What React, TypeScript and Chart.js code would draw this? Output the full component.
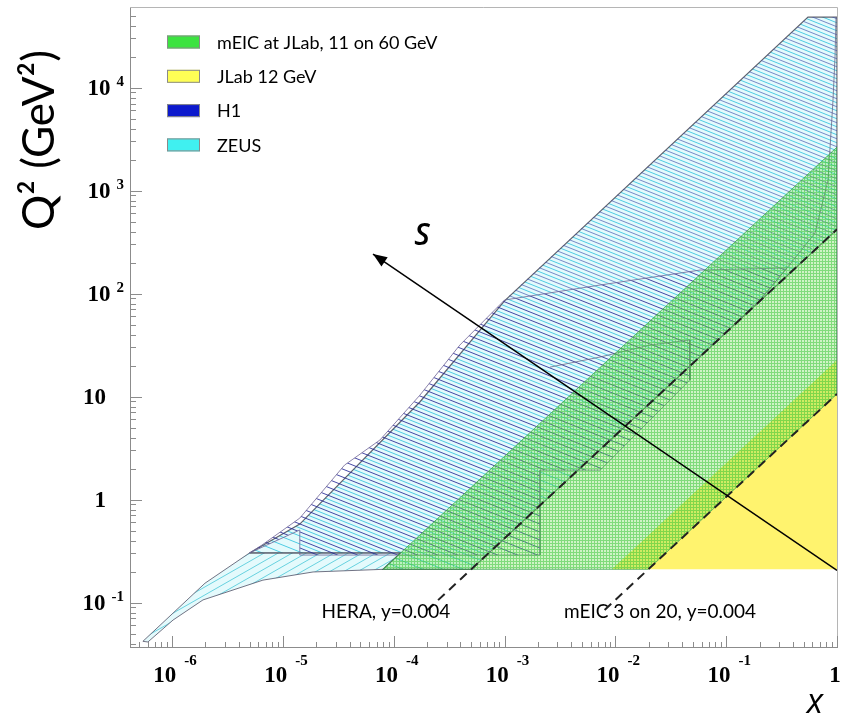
import React, { useEffect, useRef } from 'react';
import { Chart, registerables } from 'chart.js';

Chart.register(...registerables);

// ---- axis ranges (x = Bjorken x, y = Q^2 in GeV^2) ----
const X_MIN = 4.17e-7;
const X_MAX = 1;
const Q2_MIN = 0.037;
const Q2_MAX = 59200;

// ---- tick labels ----
const xTickValues = [1e-6, 1e-5, 1e-4, 1e-3, 1e-2, 1e-1, 1];
const xTickBase = ['10', '10', '10', '10', '10', '10', '1'];
const xTickExp = ['-6', '-5', '-4', '-3', '-2', '-1', ''];
const yTickValues = [0.1, 1, 10, 100, 1000, 10000];
const yTickBase = ['10', '1', '10', '10', '10', '10'];
const yTickExp = ['-1', '', '', '2', '3', '4'];

// ---- legend ----
const legendLabels = ['mEIC at JLab, 11 on 60 GeV', 'JLab 12 GeV', 'H1', 'ZEUS'];
const legendColors = ['#3ce340', '#ffff55', '#0c19cd', '#40f0f0'];

// ---- regions: polygon vertices (x, Q^2) ----
const jlabX = [0.0093, 1, 1, 0.0093];
const jlabQ2 = [0.21, 22.6, 0.21, 0.21];

const meicX = [8.0e-5, 1, 1, 0.0198, 8.0e-5];
const meicQ2 = [0.21, 2640, 10.6, 0.21, 0.21];

const zeusLowX = [5.45e-7, 1.98e-6, 5.0e-6, 1.15e-4, 8.0e-5, 1.87e-5, 6.6e-6, 1.9e-6, 1.02e-6, 6.05e-7, 5.45e-7];
const zeusLowQ2 = [0.042, 0.154, 0.303, 0.303, 0.21, 0.198, 0.165, 0.106, 0.0676, 0.0414, 0.042];

const zeusX = [5.0e-6, 1.42e-5, 1.72e-4, 1.0e-3, 0.547, 1, 1, 5.0e-4, 8.0e-5, 1.15e-4, 5.0e-6];
const zeusQ2 = [0.303, 0.578, 8.85, 85, 48300, 48300, 420, 0.21, 0.21, 0.303, 0.303];

// H1, central (low/medium Q^2) part
const h1X = [5.0e-6, 6.46e-6, 1.42e-5, 3.6e-5, 7.5e-5, 1.72e-4, 3.95e-4, 1.0e-3, 7.3e-3, 0.058, 0.354, 0.202, 0.047, 0.047, 7.3e-3, 2.09e-3, 2.09e-3, 1.42e-5, 1.42e-5, 5.0e-6];
const h1Q2 = [0.303, 0.361, 0.66, 2.16, 3.78, 10.3, 31.6, 86.5, 121, 169, 177, 86.5, 19.8, 14.5, 1.93, 1.93, 0.289, 0.289, 0.506, 0.303];
// H1, high Q^2 part
const h1HighX = [1.0e-3, 0.547, 1, 1, 0.354, 0.058, 7.3e-3, 1.0e-3];
const h1HighQ2 = [86.5, 48300, 48300, 420, 177, 169, 121, 86.5];

// ---- inner outlines of the HERA measurement regions ----
const curveRightX = [0.98, 0.96, 0.92, 0.83, 0.633, 0.354, 0.202];
const curveRightQ2 = [48300, 20000, 7500, 1265, 386, 177, 86.5];
const bumpX = [2.57e-3, 7.3e-3, 0.0205, 0.047, 0.047];
const bumpQ2 = [19.3, 24.2, 31.6, 35.4, 14.5];

// ---- y = 0.004 lines ----
const heraDashX = [2.0e-4, 1];
const heraDashQ2 = [0.084, 420];
const meicDashX = [0.008, 1];
const meicDashQ2 = [0.0848, 10.6];

// ---- direction of increasing s ----
const arrowX = [1, 6.5e-5];
const arrowQ2 = [0.205, 242];

// ---- annotations ----
const sLabel = { text: 'S', x: 1.8e-4, q2: 361 };
const heraLabel = { text: 'HERA, y=0.004', x: 8.5e-5, q2: 0.081 };
const meicLabel = { text: 'mEIC 3 on 20, y=0.004', x: 0.0253, q2: 0.081 };

const pts = (xs: number[], ys: number[]) => xs.map((x, i) => ({ x, y: ys[i] }));

function linePattern(ctx: CanvasRenderingContext2D, w: number, h: number, color: string, lw: number, up: boolean, off: number, bg?: string) {
  const c = document.createElement('canvas');
  c.width = w;
  c.height = h;
  const g = c.getContext('2d')!;
  if (bg) {
    g.fillStyle = bg;
    g.fillRect(0, 0, w, h);
  }
  g.strokeStyle = color;
  g.lineWidth = lw;
  for (let k = -1; k <= 1; k++) {
    g.beginPath();
    if (up) {
      g.moveTo(0, off + h + k * h);
      g.lineTo(w, off + k * h);
    } else {
      g.moveTo(0, off + k * h);
      g.lineTo(w, off + h + k * h);
    }
    g.stroke();
  }
  return ctx.createPattern(c, 'repeat')!;
}

function gridPattern(ctx: CanvasRenderingContext2D, size: number, bg: string, line: string) {
  const c = document.createElement('canvas');
  c.width = size;
  c.height = size;
  const g = c.getContext('2d')!;
  g.fillStyle = bg;
  g.fillRect(0, 0, size, size);
  g.fillStyle = line;
  g.fillRect(0, 0, size, 1);
  g.fillRect(0, 1, 1, size - 1);
  return ctx.createPattern(c, 'repeat')!;
}

const overlayPlugin = {
  id: 'overlay',
  afterDatasetsDraw(chart: any) {
    const ctx = chart.ctx as CanvasRenderingContext2D;
    const meta = chart.getDatasetMeta(chart.data.datasets.length - 1);
    const p0 = meta.data[0];
    const p1 = meta.data[1];
    if (!p0 || !p1) return;
    const ang = Math.atan2(p1.y - p0.y, p1.x - p0.x);
    ctx.save();
    ctx.translate(p1.x, p1.y);
    ctx.rotate(ang);
    ctx.beginPath();
    ctx.moveTo(0, 0);
    ctx.lineTo(-14, -5.5);
    ctx.lineTo(-14, 5.5);
    ctx.closePath();
    ctx.fillStyle = '#000';
    ctx.fill();
    ctx.restore();
  },
  afterDraw(chart: any) {
    const ctx = chart.ctx as CanvasRenderingContext2D;
    const a = chart.chartArea;
    const xs = chart.scales.x;
    const ys = chart.scales.y;
    ctx.save();

    // frame
    ctx.strokeStyle = '#b5b5b5';
    ctx.lineWidth = 1;
    ctx.beginPath();
    ctx.moveTo(a.left, a.top - 0.5);
    ctx.lineTo(a.right + 0.5, a.top - 0.5);
    ctx.lineTo(a.right + 0.5, a.bottom);
    ctx.stroke();

    // ticks (inside)
    ctx.strokeStyle = '#8c8c8c';
    for (let d = -7; d <= 0; d++) {
      for (let m = 1; m <= 9; m++) {
        const v = m * Math.pow(10, d);
        if (v < X_MIN || v > X_MAX * 1.0001) continue;
        const px = Math.round(xs.getPixelForValue(v)) + 0.5;
        const len = m === 1 ? 11 : 5;
        ctx.beginPath();
        ctx.moveTo(px, a.bottom);
        ctx.lineTo(px, a.bottom - len);
        ctx.stroke();
      }
    }
    for (let d = -2; d <= 4; d++) {
      for (let m = 1; m <= 9; m++) {
        const v = m * Math.pow(10, d);
        if (v < Q2_MIN || v > Q2_MAX) continue;
        const py = Math.round(ys.getPixelForValue(v)) + 0.5;
        const len = m === 1 ? 12 : 6;
        ctx.beginPath();
        ctx.moveTo(a.left, py);
        ctx.lineTo(a.left + len, py);
        ctx.stroke();
      }
    }

    // tick labels
    const baseFont = 'bold 23px "Liberation Serif", "Times New Roman", serif';
    const expFont = 'bold 15px "Liberation Serif", "Times New Roman", serif';
    ctx.fillStyle = '#000';
    ctx.textBaseline = 'alphabetic';
    ctx.textAlign = 'left';
    xTickValues.forEach((v, i) => {
      const px = xs.getPixelForValue(v);
      ctx.font = baseFont;
      const wb = ctx.measureText(xTickBase[i]).width;
      if (xTickExp[i]) {
        ctx.font = expFont;
        const we = ctx.measureText(xTickExp[i]).width;
        const gap = 8;
        const start = px + 3 - (wb + gap + we) / 2;
        ctx.font = baseFont;
        ctx.fillText(xTickBase[i], start, a.bottom + 35);
        ctx.font = expFont;
        ctx.fillText(xTickExp[i], start + wb + gap, a.bottom + 18);
      } else {
        ctx.fillText(xTickBase[i], px - 2 - wb / 2, a.bottom + 35);
      }
    });
    yTickValues.forEach((v, i) => {
      const py = ys.getPixelForValue(v);
      if (yTickExp[i]) {
        ctx.font = expFont;
        const we = ctx.measureText(yTickExp[i]).width;
        const right = a.left - 6;
        ctx.fillText(yTickExp[i], right - we, py - 2);
        ctx.font = baseFont;
        const wb = ctx.measureText(yTickBase[i]).width;
        ctx.fillText(yTickBase[i], right - we - 6 - wb, py + 7.5);
      } else {
        ctx.font = baseFont;
        const wb = ctx.measureText(yTickBase[i]).width;
        ctx.fillText(yTickBase[i], a.left - 24 - wb, py + 7.5);
      }
    });

    // axis titles
    ctx.save();
    ctx.translate(40, 140);
    ctx.rotate(-Math.PI / 2);
    ctx.font = '44px Lato, "Open Sans", sans-serif';
    ctx.textAlign = 'center';
    ctx.textBaseline = 'middle';
    ctx.fillText('Q² (GeV²)', 0, 0);
    ctx.restore();

    ctx.font = 'italic 34px "Open Sans", "Liberation Sans", sans-serif';
    ctx.textAlign = 'center';
    ctx.textBaseline = 'middle';
    ctx.fillText('x', a.right - 22, a.bottom + 56);

    // annotations
    ctx.font = 'italic 600 30px "Open Sans", "Liberation Sans", sans-serif';
    ctx.fillText(sLabel.text, xs.getPixelForValue(sLabel.x), ys.getPixelForValue(sLabel.q2));
    ctx.font = '19px Lato, "Open Sans", sans-serif';
    ctx.fillText(heraLabel.text, xs.getPixelForValue(heraLabel.x), ys.getPixelForValue(heraLabel.q2));
    ctx.fillText(meicLabel.text, xs.getPixelForValue(meicLabel.x), ys.getPixelForValue(meicLabel.q2));

    // legend
    ctx.textAlign = 'left';
    ctx.font = '18px Lato, "Open Sans", sans-serif';
    legendLabels.forEach((lab, i) => {
      const cy = a.top + 34 + i * 34.3;
      const bx = a.left + 37;
      ctx.fillStyle = legendColors[i];
      ctx.fillRect(bx, cy - 6.5, 33, 13);
      ctx.strokeStyle = '#8a8a8a';
      ctx.strokeRect(bx + 0.5, cy - 6, 32, 12);
      ctx.fillStyle = '#000';
      ctx.fillText(lab, a.left + 87, cy + 1);
    });
    ctx.restore();
  },
};

export default function App() {
  const ref = useRef<HTMLCanvasElement>(null);
  useEffect(() => {
    const canvas = ref.current!;
    const ctx = canvas.getContext('2d')!;
    const yellow = 'rgb(255, 243, 110)';
    const greenPat = gridPattern(ctx, 3, 'rgba(110,220,80,0.33)', 'rgba(50,195,50,0.5)');
    const zeusPat = linePattern(ctx, 20, 8, 'rgba(70,200,225,0.95)', 1, false, 0, 'rgba(205,245,250,0.55)');
    const zeusLowPat = linePattern(ctx, 14, 8, 'rgba(90,205,220,0.9)', 1, true, 0, 'rgba(210,247,250,0.6)');
    const h1Pat = linePattern(ctx, 20, 8, 'rgba(35,40,150,0.85)', 1, false, 4);
    const h1HighPat = linePattern(ctx, 20, 8, 'rgba(55,75,170,0.65)', 1, false, 4);

    const base = { pointRadius: 0, tension: 0, spanGaps: true };
    const outline = { ...base, fill: false, borderColor: 'rgba(100,95,130,0.75)', borderWidth: 1 };
    const chart = new Chart(canvas, {
      type: 'line',
      data: {
        datasets: [
          { ...base, label: 'JLab 12 GeV', data: pts(jlabX, jlabQ2), fill: 'shape', backgroundColor: yellow, borderColor: 'rgba(0,0,0,0)', borderWidth: 0, order: 10 },
          { ...base, label: 'ZEUS (low Q²)', data: pts(zeusLowX, zeusLowQ2), fill: 'shape', backgroundColor: zeusLowPat, borderColor: 'rgba(90,90,110,0.85)', borderWidth: 1, order: 9 },
          { ...base, label: 'ZEUS', data: pts(zeusX, zeusQ2), fill: 'shape', backgroundColor: zeusPat, borderColor: 'rgba(70,70,85,0.85)', borderWidth: 1.2, order: 8 },
          { ...base, label: 'H1', data: pts(h1X, h1Q2), fill: 'shape', backgroundColor: h1Pat, borderColor: 'rgba(110,100,150,0.8)', borderWidth: 1, order: 7 },
          { ...base, label: 'H1 (high Q²)', data: pts(h1HighX, h1HighQ2), fill: 'shape', backgroundColor: h1HighPat, borderColor: 'rgba(0,0,0,0)', borderWidth: 0, order: 6 },
          { ...outline, label: 'outline 1', data: pts(curveRightX, curveRightQ2), order: 5 },
          { ...outline, label: 'outline 2', data: pts(bumpX, bumpQ2), order: 4 },
          { ...base, label: 'mEIC at JLab, 11 on 60 GeV', data: pts(meicX, meicQ2), fill: 'shape', backgroundColor: greenPat, borderColor: 'rgba(60,160,80,0.7)', borderWidth: 1, order: 3 },
          { ...base, label: 'HERA, y=0.004', data: pts(heraDashX, heraDashQ2), fill: false, borderColor: '#222', borderWidth: 2, borderDash: [9, 6], order: 2 },
          { ...base, label: 'mEIC 3 on 20, y=0.004', data: pts(meicDashX, meicDashQ2), fill: false, borderColor: '#222', borderWidth: 2, borderDash: [9, 6], order: 1 },
          { ...base, label: 's', data: pts(arrowX, arrowQ2), fill: false, borderColor: '#000', borderWidth: 1.5, order: 0 },
        ],
      },
      options: {
        animation: false,
        responsive: true,
        maintainAspectRatio: false,
        events: [],
        layout: { padding: { left: 130, right: 12, top: 8, bottom: 71 } },
        plugins: { legend: { display: false }, tooltip: { enabled: false } },
        scales: {
          x: {
            type: 'logarithmic',
            min: X_MIN,
            max: X_MAX,
            ticks: { display: false },
            grid: { display: false, drawTicks: false },
            border: { display: true, color: '#8c8c8c', width: 1 },
          },
          y: {
            type: 'logarithmic',
            min: Q2_MIN,
            max: Q2_MAX,
            ticks: { display: false },
            grid: { display: false, drawTicks: false },
            border: { display: true, color: '#8c8c8c', width: 1 },
          },
        },
      },
      plugins: [overlayPlugin],
    });
    return () => chart.destroy();
  }, []);
  return (
    <div style={{ position: 'fixed', left: 0, top: 0, width: 849, height: 718, background: '#fff' }}>
      <canvas ref={ref} />
    </div>
  );
}
